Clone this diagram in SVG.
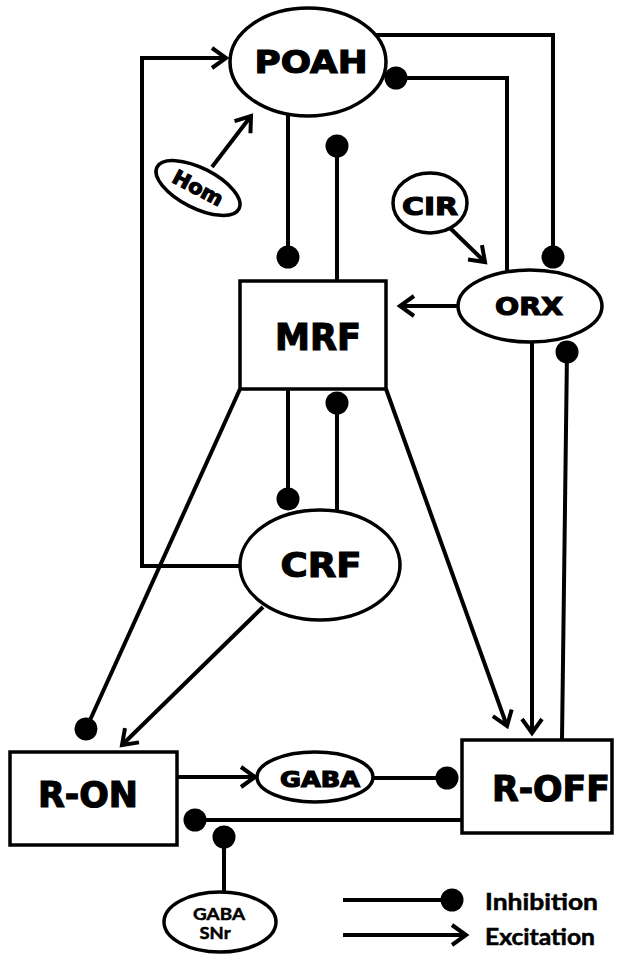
<svg xmlns="http://www.w3.org/2000/svg" width="625" height="954" viewBox="0 0 625 954">
<style>
.shape{fill:#fff;stroke:#000;stroke-width:3.5}
.lbl{font-family:"DejaVu Sans","Liberation Sans",sans-serif;font-weight:bold;fill:#000;stroke:#000;stroke-width:1.2;text-anchor:middle}
.lgd{font-family:Lato,"Open Sans","Liberation Sans",sans-serif;font-weight:bold;fill:#000;stroke:#000;stroke-width:0.5}
.ln{fill:none;stroke:#000;stroke-width:4}
</style>
<defs>
<marker id="arr" markerUnits="userSpaceOnUse" markerWidth="30" markerHeight="30" viewBox="-20 -15 30 30" refX="0" refY="0" orient="auto" overflow="visible">
<path d="M-14,-10 L0,0 L-14,10" fill="none" stroke="#000" stroke-width="4"/>
</marker>
<marker id="dot" markerUnits="userSpaceOnUse" markerWidth="30" markerHeight="30" viewBox="-15 -15 30 30" refX="0" refY="0" orient="auto" overflow="visible">
<circle cx="0" cy="0" r="11.5" fill="#000"/>
</marker>
</defs>
<rect width="625" height="954" fill="#fff"/>
<g id="connectors">
<path class="ln" d="M240,566 H142 V58 H226" marker-end="url(#arr)"/>
<path class="ln" d="M212,167 L251,116" marker-end="url(#arr)"/>
<path class="ln" d="M376,35 H553 V257" marker-end="url(#dot)"/>
<path class="ln" d="M507,271 V78 H396" marker-end="url(#dot)"/>
<path class="ln" d="M450,228 L485,262" marker-end="url(#arr)"/>
<path class="ln" d="M458,306 H400" marker-end="url(#arr)"/>
<path class="ln" d="M288,115 V257" marker-end="url(#dot)"/>
<path class="ln" d="M337,281 V146" marker-end="url(#dot)"/>
<path class="ln" d="M288,389 V499" marker-end="url(#dot)"/>
<path class="ln" d="M337,512 V403" marker-end="url(#dot)"/>
<path class="ln" d="M240,389 L86,729" marker-end="url(#dot)"/>
<path class="ln" d="M263,607 L122,745" marker-end="url(#arr)"/>
<path class="ln" d="M386,389 L507,726" marker-end="url(#arr)"/>
<path class="ln" d="M532,342 V733" marker-end="url(#arr)"/>
<path class="ln" d="M562,740 L567,352" marker-end="url(#dot)"/>
<path class="ln" d="M177,777 H255" marker-end="url(#arr)"/>
<path class="ln" d="M373,778 H447" marker-end="url(#dot)"/>
<path class="ln" d="M462,820 H195" marker-end="url(#dot)"/>
<path class="ln" d="M224,893 V837" marker-end="url(#dot)"/>
</g>
<g id="POAH">
<ellipse class="shape" cx="308" cy="62" rx="78" ry="54"/>
<text class="lbl" x="311" y="73" font-size="32" textLength="113" lengthAdjust="spacingAndGlyphs">POAH</text>
</g>
<g id="Hom">
<ellipse class="shape" cx="198" cy="188" rx="46" ry="20" transform="rotate(27 198 188)"/>
<text class="lbl" x="198" y="195" font-size="20" textLength="54" lengthAdjust="spacingAndGlyphs" transform="rotate(28 198 188)">Hom</text>
</g>
<g id="CIR">
<ellipse class="shape" cx="430" cy="203" rx="37" ry="30"/>
<text class="lbl" x="430" y="215" font-size="25" textLength="56" lengthAdjust="spacingAndGlyphs">CIR</text>
</g>
<g id="ORX">
<ellipse class="shape" cx="530" cy="306" rx="72" ry="36"/>
<text class="lbl" x="529" y="315" font-size="25" textLength="68" lengthAdjust="spacingAndGlyphs">ORX</text>
</g>
<g id="MRF">
<rect class="shape" x="240" y="281" width="146" height="108"/>
<text class="lbl" x="318" y="350" font-size="37" textLength="86" lengthAdjust="spacingAndGlyphs">MRF</text>
</g>
<g id="CRF">
<ellipse class="shape" cx="320" cy="565" rx="80" ry="55"/>
<text class="lbl" x="321" y="577" font-size="34" textLength="81" lengthAdjust="spacingAndGlyphs">CRF</text>
</g>
<g id="R-ON">
<rect class="shape" x="10" y="752" width="167" height="93"/>
<text class="lbl" x="88" y="807" font-size="35" textLength="100" lengthAdjust="spacingAndGlyphs">R-ON</text>
</g>
<g id="GABA">
<ellipse class="shape" cx="315" cy="777" rx="58" ry="25"/>
<text class="lbl" x="320" y="787" font-size="21" textLength="80" lengthAdjust="spacingAndGlyphs">GABA</text>
</g>
<g id="R-OFF">
<rect class="shape" x="462" y="740" width="150" height="93"/>
<text class="lbl" x="551" y="801" font-size="36" textLength="118" lengthAdjust="spacingAndGlyphs">R-OFF</text>
</g>
<g id="GABA-SNr">
<ellipse class="shape" cx="220" cy="922" rx="56" ry="30"/>
<text class="lgd" x="219" y="920" font-size="17" text-anchor="middle" textLength="52" lengthAdjust="spacingAndGlyphs">GABA</text>
<text class="lgd" x="215" y="939" font-size="17" text-anchor="middle" textLength="31" lengthAdjust="spacingAndGlyphs">SNr</text>
</g>
<g id="legend">
<path class="ln" d="M343,900 H452" marker-end="url(#dot)"/>
<path class="ln" d="M343,935 H466" marker-end="url(#arr)"/>
<text class="lgd" x="485" y="910" font-size="22" textLength="113" lengthAdjust="spacingAndGlyphs">Inhibition</text>
<text class="lgd" x="485" y="945" font-size="22" textLength="110" lengthAdjust="spacingAndGlyphs">Excitation</text>
</g>
</svg>
